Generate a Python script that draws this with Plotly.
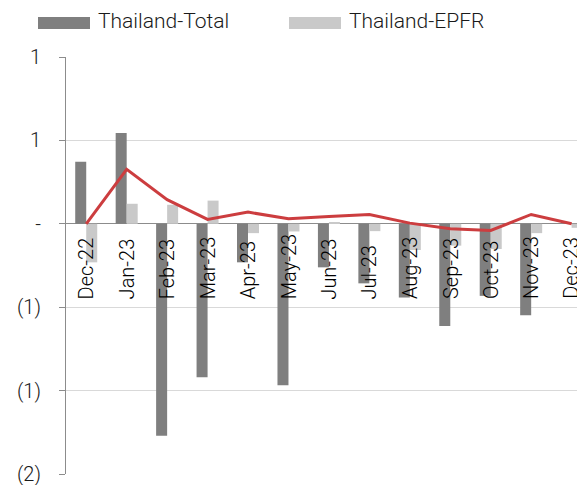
import plotly.graph_objects as go

categories = ["Dec-22", "Jan-23", "Feb-23", "Mar-23", "Apr-23", "May-23", "Jun-23",
              "Jul-23", "Aug-23", "Sep-23", "Oct-23", "Nov-23", "Dec-23"]
total = [0.372, 0.544, -1.271, -0.920, -0.231, -0.968, -0.261,
         -0.357, -0.442, -0.613, -0.432, -0.548, 0.0]
epfr = [-0.231, 0.120, 0.114, 0.139, -0.056, -0.046, 0.010,
        -0.044, -0.157, -0.131, -0.151, -0.056, -0.024]
line_vals = [0.0, 0.327, 0.145, 0.026, 0.070, 0.030, 0.044,
             0.056, 0.004, -0.030, -0.040, 0.056, 0.0]
ytick_vals = [1, 0.5, 0, -0.5, -1, -1.5]
ytick_text = ["1", "1", "-", "(1)", "(1)", "(2)"]

FONT = "Roboto Light, Roboto, sans-serif"
C_TOTAL = "#7f7f7f"
C_EPFR = "#c9c9c9"
C_LINE = "#cc3d3f"

x_idx = list(range(len(categories)))

fig = go.Figure()
fig.add_trace(go.Bar(x=x_idx, y=total, name="Thailand-Total", marker_color=C_TOTAL,
                     marker_line_width=0, showlegend=False))
fig.add_trace(go.Bar(x=x_idx, y=epfr, name="Thailand-EPFR", marker_color=C_EPFR,
                     marker_line_width=0, showlegend=False))
fig.add_trace(go.Scatter(x=x_idx, y=line_vals, mode="lines", name="Net",
                         line=dict(color=C_LINE, width=3), showlegend=False))

# category labels, rotated, bottom aligned below zero line
for i, c in enumerate(categories):
    fig.add_annotation(x=i, y=-0.464, xref="x", yref="y", text=c, textangle=-90,
                       showarrow=False, xanchor="center", yanchor="bottom",
                       font=dict(family=FONT, size=20, color="#000000", weight=300))

# custom legend
W, H, L, T = 577, 485, 66, 57
PW, PH = W - L, 474 - T
def px(x):
    return (x - L) / PW
def py(y):
    return (474 - y) / PH

legend_items = [("Thailand-Total", C_TOTAL, 38, 90, 96),
                ("Thailand-EPFR", C_EPFR, 289, 341, 347)]
for name, col, x0, x1, tx in legend_items:
    fig.add_shape(type="rect", xref="paper", yref="paper", x0=px(x0), x1=px(x1),
                  y0=py(29), y1=py(17), fillcolor=col, line_width=0)
    fig.add_annotation(x=px(tx), y=py(21), xref="paper", yref="paper", text=name,
                       showarrow=False, xanchor="left", yanchor="middle",
                       font=dict(family=FONT, size=21, color="#1a1a1a", weight=300))

fig.update_layout(
    width=W, height=H,
    margin=dict(l=L, r=0, t=T, b=H - 474, pad=0),
    paper_bgcolor="white", plot_bgcolor="white",
    barmode="group", bargap=0.456, bargroupgap=0,
    font=dict(family=FONT, color="#1a1a1a"),
    xaxis=dict(range=[-0.5, -0.5 + PW / 40.45], showticklabels=False, showgrid=False,
               zeroline=False, showline=False, ticks=""),
    yaxis=dict(range=[-1.5, 1], tickvals=ytick_vals, ticktext=ytick_text,
               showgrid=True, gridcolor="#d9d9d9", gridwidth=1,
               zeroline=True, zerolinecolor="#8c8c8c", zerolinewidth=1,
               showline=True, linecolor="#8c8c8c", linewidth=1,
               ticks="outside", ticklen=6, tickcolor="#8c8c8c",
               ticklabelstandoff=14, ticklabeloverflow="allow",
               tickfont=dict(family=FONT, size=20, color="#1a1a1a", weight=300)),
)

fig.write_html("out.html")
